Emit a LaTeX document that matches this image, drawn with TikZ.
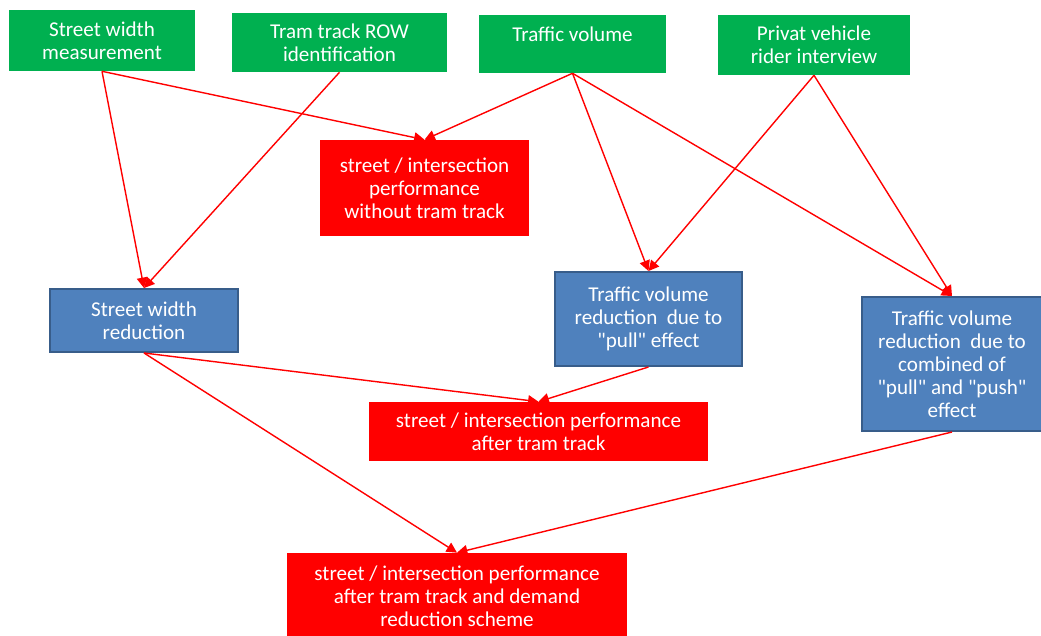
\documentclass[tikz,border=0pt]{standalone}
\usepackage{fontspec}
\setmainfont{Carlito}
\usetikzlibrary{arrows.meta}
\definecolor{Green}{HTML}{00B050}
\definecolor{Red}{HTML}{FF0000}
\definecolor{Blue}{HTML}{4F81BD}
\definecolor{DarkBlue}{HTML}{385D8A}
\tikzset{
  input/.style={fill=Green,text=white,align=center,inner sep=0pt,
    font=\fontsize{15}{16.3}\selectfont},
  perf/.style={fill=Red,text=white,align=center,inner sep=0pt,
    font=\fontsize{15}{16.3}\selectfont},
  reduce/.style={fill=Blue,draw=DarkBlue,line width=1.4pt,text=white,align=center,
    inner sep=0pt,font=\fontsize{15}{16.3}\selectfont},
  arrow/.style={-{Triangle[length=2.6mm,width=2.6mm]},draw=Red,line width=1pt}
}
\begin{document}
\begin{tikzpicture}[x=0.025cm,y=-0.025cm]
    \useasboundingbox (0,0) rectangle (1041,636);

    % data collection
    \node[input,minimum width=4.65cm,minimum height=1.525cm] (sw) at (102,40.5) {Street width\\measurement};
    \node[input,minimum width=5.375cm,minimum height=1.475cm] (row) at (339.5,42.5) {Tram track ROW\\identification};
    \node[input,minimum width=4.675cm,minimum height=1.45cm] (tv) at (572.5,44) {Traffic volume\\[-7pt]\strut};
    \node[input,minimum width=4.8cm,minimum height=1.5cm] (pv) at (814,45) {Privat vehicle\\rider interview};

    % analysis
    \node[perf,minimum width=5.225cm,minimum height=2.4cm] (before) at (424.5,188) {street / intersection\\performance\\without tram track};
    \node[reduce,minimum width=4.7cm,minimum height=1.575cm] (swred) at (144,320.5) {Street width\\reduction};
    \node[reduce,minimum width=4.675cm,minimum height=2.35cm] (pull) at (648.5,319) {Traffic volume\\reduction~ due to\\\textquotedbl pull\textquotedbl{} effect};
    \node[reduce,minimum width=4.5cm,minimum height=3.35cm] (push) at (952,364) {Traffic volume\\reduction~ due to\\combined of\\\textquotedbl pull\textquotedbl{} and \textquotedbl push\textquotedbl\\effect};
    \node[perf,minimum width=8.475cm,minimum height=1.475cm] (after) at (538.5,431.5) {street / intersection performance\\after tram track};
    \node[perf,minimum width=8.5cm,minimum height=2.15cm] (final) at (457,596) {street / intersection performance\\after tram track and demand\\reduction scheme};

    \draw[arrow] (sw.south)--(before.north); \draw[arrow] (tv.south)--(before.north);
    \draw[arrow] (sw.south)--(swred.north); \draw[arrow] (row.south)--(swred.north);
    \draw[arrow] (tv.south)--(pull.north); \draw[arrow] (pv.south)--(pull.north);
    \draw[arrow] (tv.south)--(push.north); \draw[arrow] (pv.south)--(push.north);
    \draw[arrow] (swred.south)--(after.north); \draw[arrow] (pull.south)--(after.north);
    \draw[arrow] (swred.south)--(final.north); \draw[arrow] (push.south)--(final.north);
\end{tikzpicture}
\end{document}
